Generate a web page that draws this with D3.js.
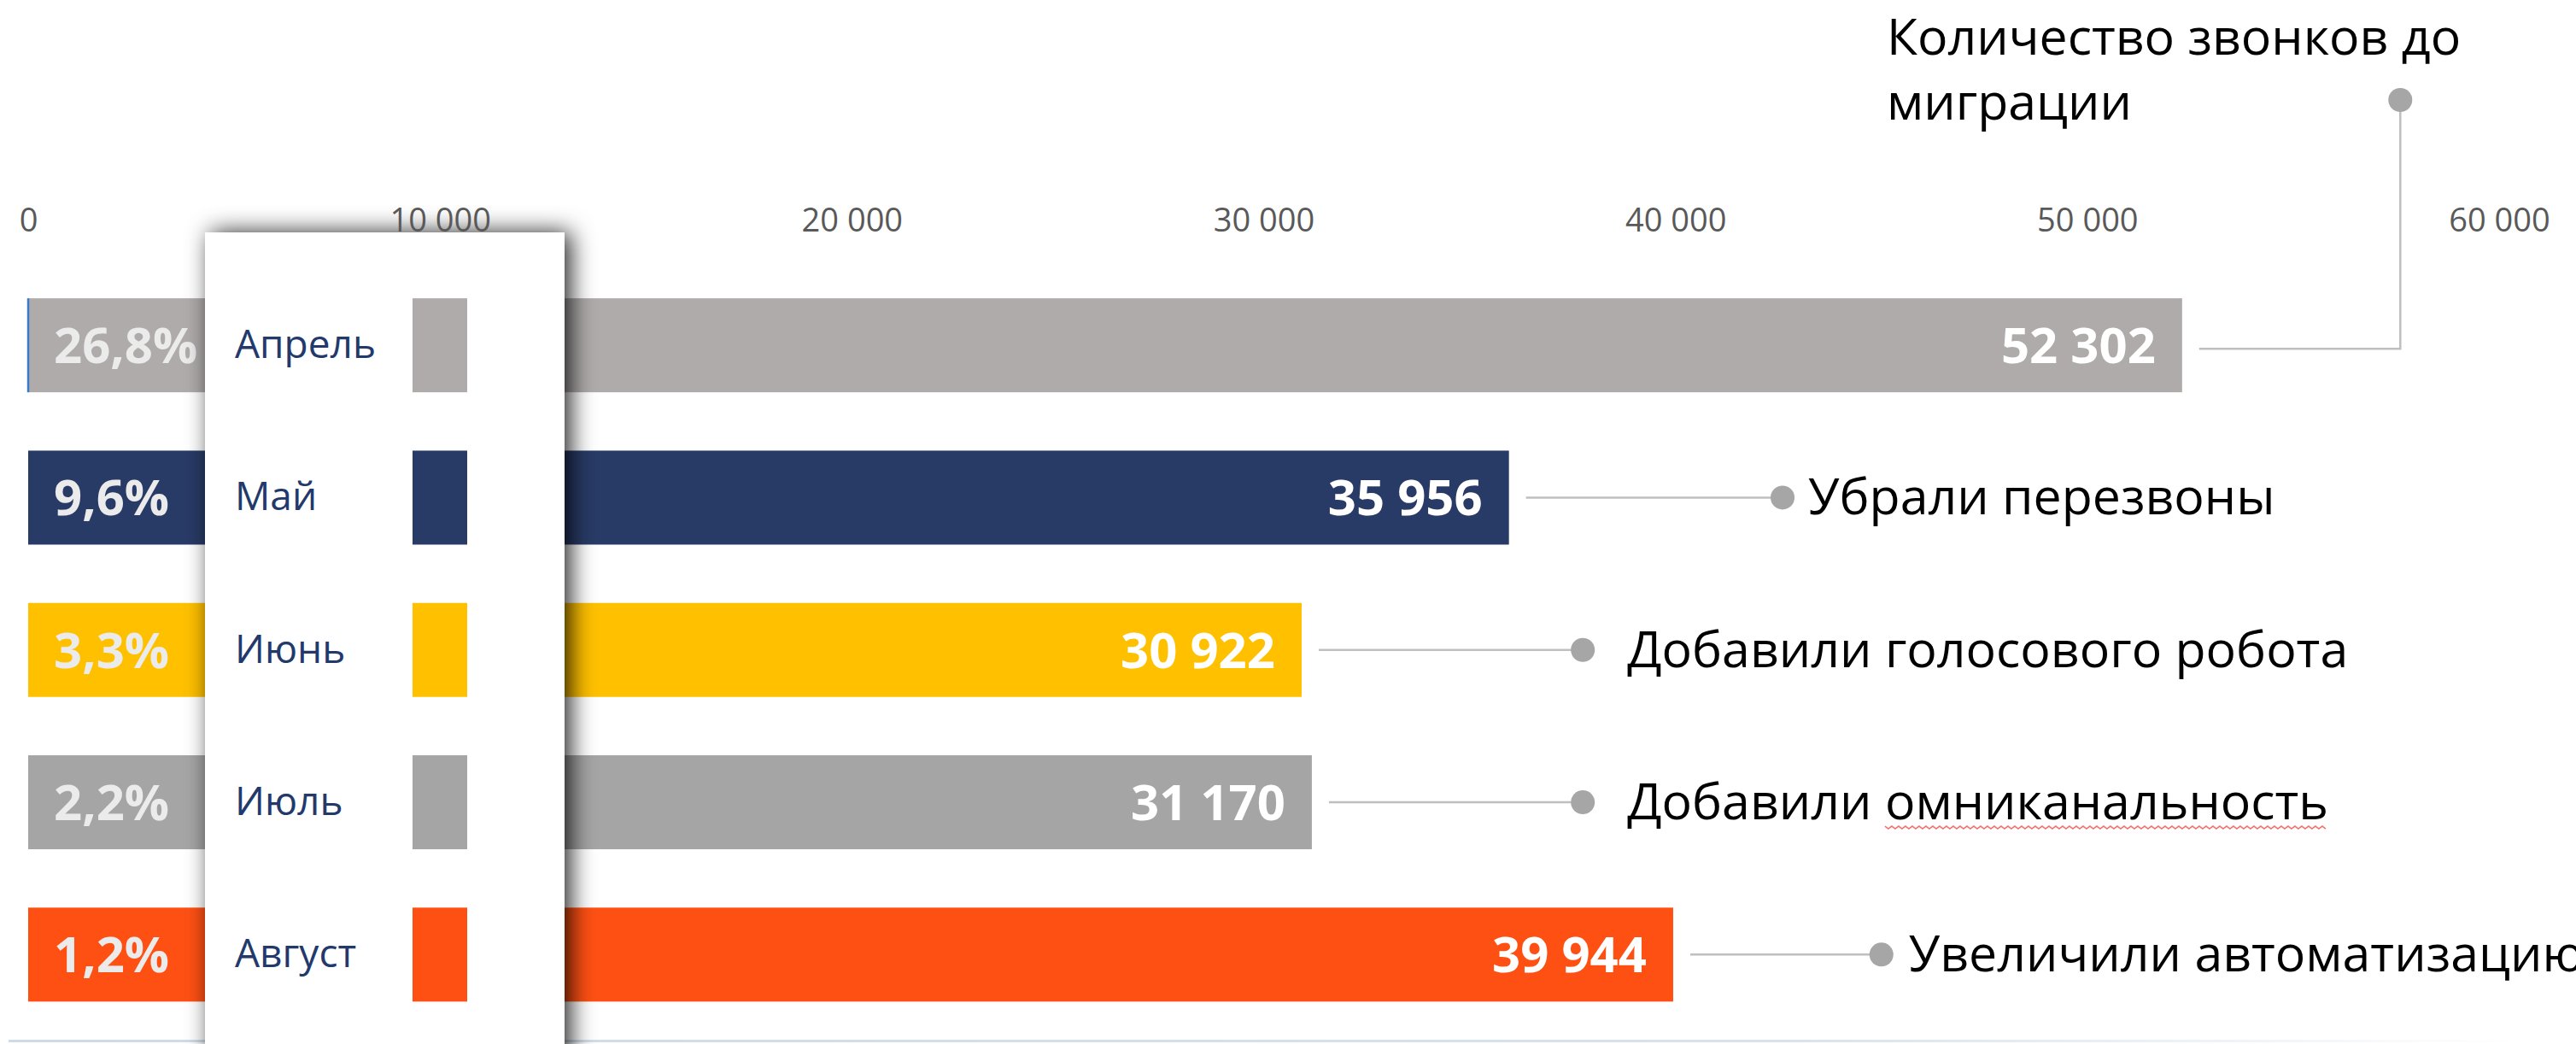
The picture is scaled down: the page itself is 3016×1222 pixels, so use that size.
<!DOCTYPE html>
<html lang="ru">
<head>
<meta charset="utf-8">
<script src="https://cdnjs.cloudflare.com/ajax/libs/d3/7.8.5/d3.min.js"></script>
<style>
  html, body { margin: 0; padding: 0; background: #fff; }
  svg { display: block; font-family: "Open Sans", "Noto Sans", sans-serif; }
</style>
</head>
<body>
<div id="chart"></div>
<script>
// --- data ---
var months = ["Апрель", "Май", "Июнь", "Июль", "Август"];
var calls = [52302, 35956, 30922, 31170, 39944];      // calls per month
var shares = [26.8, 9.6, 3.3, 2.2, 1.2];               // %
var notes = [
    ["Количество звонков до", "миграции"],
    ["Убрали перезвоны"],
    ["Добавили голосового робота"],
    ["Добавили омниканальность"],
    ["Увеличили автоматизацию"]
];
var ticks = [0, 10000, 20000, 30000, 40000, 50000, 60000];

// --- styles / layout ---
var colors = ["#afabab", "#283a66", "#ffc000", "#a5a5a5", "#ff5013"];
var noteDotAt = [57600, 42600, 37750, 37750, 45000];   // where each callout dot sits, in axis units
var noteGap = [0, 30, 52, 52, 32];                     // dot -> text distance, px

var w = 3016, h = 1222;

var ru = d3.formatLocale({ decimal: ",", thousands: " ", grouping: [3], currency: ["", ""] });
var fmtInt = ru.format(",d");
var fmtPct = ru.format(".1f");

var x = d3.scaleLinear().domain([0, 60000]).range([33, 2926]);
var y = d3.scaleBand().domain(months)
          .range([315, 1206.5])
          .paddingInner(0.383)
          .paddingOuter(0.1915);

var svg = d3.select("#chart").append("svg")
            .attr("width", w)
            .attr("height", h);

var defs = svg.append("defs");
var shadow = defs.append("filter").attr("id", "panelShadow")
    .attr("x", "-30%").attr("y", "-10%").attr("width", "160%").attr("height", "120%");
shadow.append("feDropShadow")
    .attr("dx", 7).attr("dy", 0)
    .attr("stdDeviation", 14)
    .attr("flood-color", "#000")
    .attr("flood-opacity", 0.85);

var fade = defs.append("linearGradient").attr("id", "baseFade");
fade.append("stop").attr("offset", "0%").attr("stop-color", "#cddbe8").attr("stop-opacity", 1);
fade.append("stop").attr("offset", "70%").attr("stop-color", "#cddbe8").attr("stop-opacity", 0.8);
fade.append("stop").attr("offset", "100%").attr("stop-color", "#cddbe8").attr("stop-opacity", 0);

// faint line at the bottom edge
svg.append("rect")
    .attr("x", 10).attr("y", 1217)
    .attr("width", 2950).attr("height", 3)
    .attr("fill", "url(#baseFade)");

// bars
svg.selectAll("rect.bar")
    .data(calls)
    .enter()
    .append("rect")
    .attr("class", "bar")
    .attr("x", x(0))
    .attr("y", function(d, i) { return y(months[i]); })
    .attr("width", function(d) { return x(d) - x(0); })
    .attr("height", y.bandwidth())
    .attr("fill", function(d, i) { return colors[i]; });

// thin blue edge on the first bar
svg.append("line")
    .attr("x1", x(0)).attr("x2", x(0))
    .attr("y1", y(months[0])).attr("y2", y(months[0]) + y.bandwidth())
    .attr("stroke", "#3a7bc8")
    .attr("stroke-width", 2.5);

// percentages at bar start
svg.selectAll("text.pct")
    .data(shares)
    .enter()
    .append("text")
    .attr("class", "pct")
    .attr("x", x(0) + 30)
    .attr("y", function(d, i) { return y(months[i]) + y.bandwidth() / 2 + 21; })
    .attr("font-size", 58)
    .attr("font-weight", 700)
    .attr("fill", "#ebebeb")
    .text(function(d) { return fmtPct(d) + "%"; });

// values at bar end
svg.selectAll("text.val")
    .data(calls)
    .enter()
    .append("text")
    .attr("class", "val")
    .attr("x", function(d) { return x(d) - 31; })
    .attr("y", function(d, i) { return y(months[i]) + y.bandwidth() / 2 + 21; })
    .attr("text-anchor", "end")
    .attr("font-size", 58)
    .attr("font-weight", 700)
    .attr("fill", "#ffffff")
    .text(function(d) { return fmtInt(d); });

// legend panel laid over the bars
svg.append("rect")
    .attr("x", 240).attr("y", 272)
    .attr("width", 421).attr("height", 1000)
    .attr("fill", "#ffffff")
    .attr("filter", "url(#panelShadow)");

svg.selectAll("rect.swatch")
    .data(months)
    .enter()
    .append("rect")
    .attr("class", "swatch")
    .attr("x", 483)
    .attr("y", function(d) { return y(d); })
    .attr("width", 64)
    .attr("height", y.bandwidth())
    .attr("fill", function(d, i) { return colors[i]; });

svg.selectAll("text.month")
    .data(months)
    .enter()
    .append("text")
    .attr("class", "month")
    .attr("x", 275)
    .attr("y", function(d) { return y(d) + y.bandwidth() / 2 + 15; })
    .attr("font-size", 46)
    .attr("fill", "#23396b")
    .text(function(d) { return d; });

// top axis
var axis = d3.axisTop(x)
    .tickValues(ticks)
    .tickFormat(fmtInt)
    .tickSize(0)
    .tickPadding(0);

svg.append("g")
    .attr("transform", "translate(0,271)")
    .call(axis)
    .call(function(g) { g.select(".domain").remove(); })
    .attr("font-family", null)
    .attr("font-size", 38)
    .selectAll("text")
    .attr("fill", "#595959");

// callouts
var lineColor = "#bfbfbf", dotColor = "#a6a6a6";
var noteSize = 59;
var titleDotY = 117;

calls.forEach(function(v, i) {
    var cy = y(months[i]) + y.bandwidth() / 2;
    var x0 = x(v) + 20;
    var x1 = x(noteDotAt[i]);

    if (i === 0) {
        svg.append("path")
            .attr("d", "M" + x0 + "," + (cy + 4) + "H" + x1 + "V" + titleDotY)
            .attr("fill", "none")
            .attr("stroke", lineColor)
            .attr("stroke-width", 2.5);
        svg.append("circle")
            .attr("cx", x1).attr("cy", titleDotY).attr("r", 14)
            .attr("fill", dotColor);
        svg.selectAll("text.title")
            .data(notes[i])
            .enter()
            .append("text")
            .attr("class", "title")
            .attr("x", 2209)
            .attr("y", function(d, k) { return 64 + k * 76; })
            .attr("font-size", noteSize)
            .attr("fill", "#000")
            .text(function(d) { return d; });
        return;
    }

    svg.append("line")
        .attr("x1", x0).attr("x2", x1)
        .attr("y1", cy).attr("y2", cy)
        .attr("stroke", lineColor)
        .attr("stroke-width", 2.5);
    svg.append("circle")
        .attr("cx", x1).attr("cy", cy).attr("r", 14)
        .attr("fill", dotColor);

    var tx = x1 + noteGap[i];
    var label = svg.append("text")
        .attr("x", tx)
        .attr("y", cy + 20)
        .attr("font-size", noteSize)
        .attr("fill", "#000")
        .text(notes[i][0]);

    // spell-check squiggle under "омниканальность"
    var word = "омниканальность";
    var start = notes[i][0].indexOf(word);
    if (start >= 0) {
        var node = label.node();
        var sx = tx + node.getSubStringLength(0, start);
        var ex = tx + node.getComputedTextLength();
        var pts = [];
        for (var px = sx, k = 0; px <= ex; px += 4, k++) {
            pts.push([px, cy + 28 + (k % 2 ? 3 : 0)]);
        }
        svg.append("path")
            .attr("d", d3.line()(pts))
            .attr("fill", "none")
            .attr("stroke", "#f07070")
            .attr("stroke-width", 1.5);
    }
});
</script>
</body>
</html>
